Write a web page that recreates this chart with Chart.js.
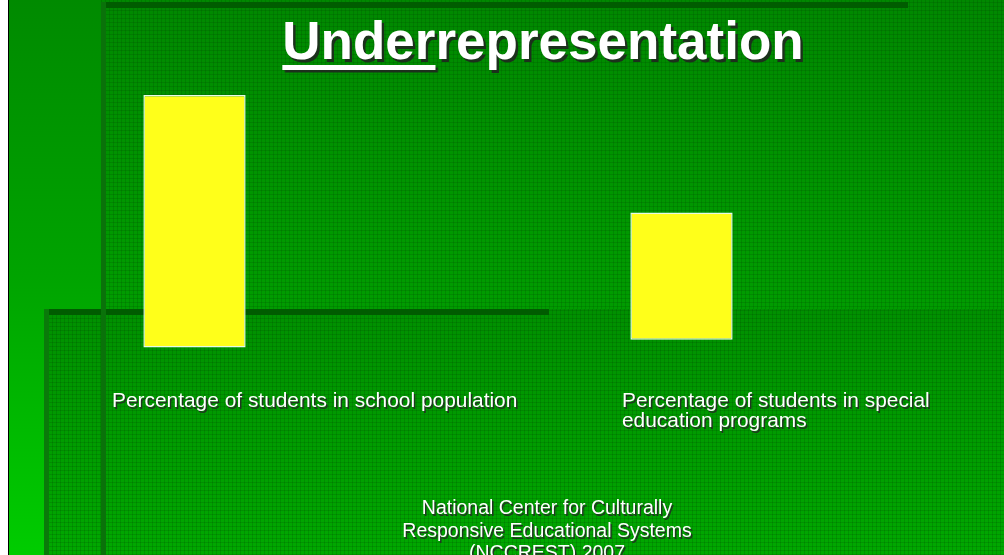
<!DOCTYPE html>
<html>
<head>
<meta charset="utf-8">
<script src="https://cdn.jsdelivr.net/npm/chart.js@4/dist/chart.umd.min.js"></script>
<style>
  html, body { margin: 0; padding: 0; }
  body { width: 1004px; height: 555px; overflow: hidden; position: relative; background: #fff;
         font-family: "Liberation Sans", Arial, sans-serif; }
  .abs { position: absolute; }
  #edge { left: 8px; top: 0; width: 1px; height: 555px; background: #000; }
  #strip { left: 9px; top: 0; width: 92px; height: 555px;
           background: linear-gradient(#008a00, #00a400 50%, #00cc00); }
  #panel1 { left: 101px; top: 0; right: 0; height: 555px;
            background-color: #009400;
            background-image:
              repeating-linear-gradient(90deg, rgba(0,50,0,0.16) 0 1px, transparent 1px 4px),
              repeating-linear-gradient(0deg, rgba(0,50,0,0.16) 0 1px, transparent 1px 4px),
              linear-gradient(#008800, #009a00 45%, #00a400); }
  #panel2 { left: 44px; top: 309px; right: 0; height: 246px;
            background-image:
              repeating-linear-gradient(90deg, rgba(0,50,0,0.16) 0 1px, transparent 1px 4px),
              repeating-linear-gradient(0deg, rgba(0,50,0,0.16) 0 1px, transparent 1px 4px),
              linear-gradient(#009000, #00a000 70%, #00a800); }
  #band1 { left: 101px; top: 2px; width: 807px; height: 6px; background: #005c00; }
  #band2 { left: 44px; top: 309px; width: 505px; height: 6px; background: #005c00; }
  #bev1 { left: 101px; top: 2px; width: 5px; height: 553px; background: #0a720a; }
  #bev2 { left: 44px; top: 309px; width: 5px; height: 246px; background: #0a7a0a; }
  #title { left: 0; width: 1086px; top: 10px; text-align: center; color: #fff;
           font-weight: bold; font-size: 53px; line-height: 62px;
           text-shadow: 2.5px 2.5px 0 #1c301c; }
  #title u { text-decoration-thickness: 5px; text-underline-offset: 6px; }
  .lab { color: #fff; font-size: 20.9px; line-height: 20px; text-shadow: 1.5px 1.5px 0 #203820; }
  #foot { left: 0; width: 1094px; top: 496px; text-align: center; color: #fff;
          font-size: 19.5px; line-height: 22.5px; text-shadow: 1.5px 1.5px 0 #203820; }
  #wrap { left: -49px; top: 0; width: 974px; height: 555px; }
</style>
</head>
<body>
<div id="strip" class="abs"></div>
<div id="edge" class="abs"></div>
<div id="panel1" class="abs"></div>
<div id="panel2" class="abs"></div>
<div id="band1" class="abs"></div>
<div id="band2" class="abs"></div>
<div id="bev1" class="abs"></div>
<div id="bev2" class="abs"></div>
<div id="title" class="abs"><u>Under</u>representation</div>
<div id="wrap" class="abs"><canvas id="barChart"></canvas></div>
<div id="lab0" class="abs lab" style="left:112px; top:390px;"></div>
<div id="lab1" class="abs lab" style="left:622px; top:390px; width:340px;"></div>
<div id="foot" class="abs">National Center for Culturally<br>Responsive Educational Systems<br>(NCCREST) 2007</div>

<script>
// Slide data (floating bars: bottom / top on a 0-100 scale)
const categories = ['Percentage of students in school population',
                    'Percentage of students in special education programs'];
const barBottoms = [37.4, 38.8];
const barTops = [82.9, 61.7];

document.getElementById('lab0').textContent = categories[0];
document.getElementById('lab1').textContent = categories[1];

const ctx = document.getElementById('barChart');
new Chart(ctx, {
  type: 'bar',
  data: {
    labels: categories,
    datasets: [{
      data: categories.map((c, i) => [barBottoms[i], barTops[i]]),
      backgroundColor: '#ffff1a',
      borderColor: '#e6fbe6',
      borderWidth: 1.5,
      borderSkipped: false,
      categoryPercentage: 1,
      barPercentage: 0.21
    }]
  },
  options: {
    responsive: true,
    maintainAspectRatio: false,
    animation: false,
    layout: { padding: 0 },
    plugins: { legend: { display: false }, tooltip: { enabled: false } },
    scales: {
      x: { display: false },
      y: { display: false, min: 0, max: 100 }
    }
  }
});
</script>
</body>
</html>
